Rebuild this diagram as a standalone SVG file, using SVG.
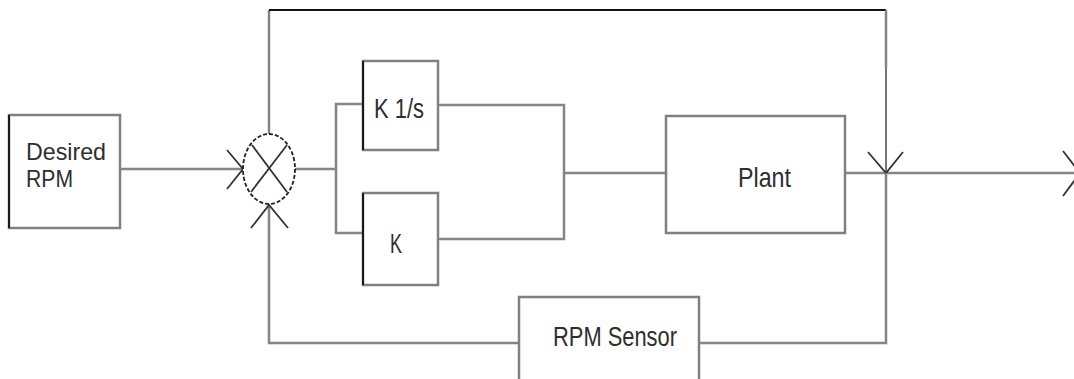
<svg xmlns="http://www.w3.org/2000/svg" width="1074" height="379" viewBox="0 0 1074 379">
<style>
  .box{fill:#fff;stroke:#808080;stroke-width:2.5}
  .edge{stroke:#1a1a1a;stroke-width:2;fill:none}
  .wire{stroke:#858585;stroke-width:2.5;fill:none}
  .thin{stroke:#555;stroke-width:1.6;fill:none}
  .dark{stroke:#111;stroke-width:2;fill:none}
  .chev{stroke:#333;stroke-width:1.8;fill:none}
  .lbl{font-family:"Liberation Sans",Arial,sans-serif;font-size:27.5px;fill:#2e2e2e}
  .sm{font-size:24px}
</style>
<rect width="1074" height="379" fill="#fff"/>
<g id="connectors">
  <line class="wire" x1="120" y1="169" x2="243" y2="169"/>
  <polyline class="chev" points="227,150 243,169 227,189"/>
  <line class="wire" x1="295" y1="169" x2="336" y2="169"/>
  <polyline class="wire" points="363,104 336,104 336,233 363,233"/>
  <polyline class="wire" points="438,105 564,105 564,239 438,239"/>
  <line class="wire" x1="564" y1="173" x2="666" y2="173"/>
  <line class="wire" x1="845" y1="173" x2="1080" y2="173"/>
  <polyline class="chev" points="1063,151 1080,173 1063,196"/>
  <line class="wire" x1="269" y1="134" x2="269" y2="10"/>
  <line class="dark" x1="269" y1="10" x2="886" y2="10"/>
  <line class="wire" x1="886" y1="10" x2="886" y2="67"/>
  <line class="thin" x1="886" y1="67" x2="886" y2="173"/>
  <polyline class="chev" points="868,152 886,173 903,152"/>
  <polyline class="wire" points="886,173 886,343 699,343"/>
  <polyline class="wire" points="519,343 269,343 269,205"/>
  <polyline class="chev" points="251,228 269,205 288,228"/>
</g>
<g id="desired-rpm">
  <rect class="box" x="9" y="115" width="111" height="113"/>
  <line class="edge" x1="9" y1="115" x2="9" y2="228"/>
  <text class="lbl sm" x="26" y="160" textLength="80" lengthAdjust="spacingAndGlyphs">Desired</text>
  <text class="lbl sm" x="26" y="187" textLength="47" lengthAdjust="spacingAndGlyphs">RPM</text>
</g>
<g id="summing-junction">
  <ellipse cx="269" cy="169" rx="26" ry="35" fill="#fff" stroke="#222" stroke-width="1.8" stroke-dasharray="4 2"/>
  <line class="chev" x1="252" y1="145" x2="287" y2="192"/>
  <line class="chev" x1="287" y1="145" x2="251" y2="192"/>
</g>
<g id="k-integral">
  <rect class="box" x="363" y="61" width="75" height="89"/>
  <line class="edge" x1="363" y1="61" x2="363" y2="150"/>
  <text class="lbl" x="374" y="118" textLength="50" lengthAdjust="spacingAndGlyphs">K 1/s</text>
</g>
<g id="k-proportional">
  <rect class="box" x="363" y="193" width="75" height="92"/>
  <line class="edge" x1="363" y1="193" x2="363" y2="285"/>
  <text class="lbl" x="390" y="253" textLength="12" lengthAdjust="spacingAndGlyphs">K</text>
</g>
<g id="plant">
  <rect class="box" x="666" y="116" width="179" height="117"/>
  <text class="lbl" x="738" y="187" textLength="53" lengthAdjust="spacingAndGlyphs">Plant</text>
</g>
<g id="rpm-sensor">
  <rect class="box" x="519" y="297" width="180" height="100"/>
  <text class="lbl" x="553" y="346" textLength="124" lengthAdjust="spacingAndGlyphs">RPM Sensor</text>
</g>
</svg>
